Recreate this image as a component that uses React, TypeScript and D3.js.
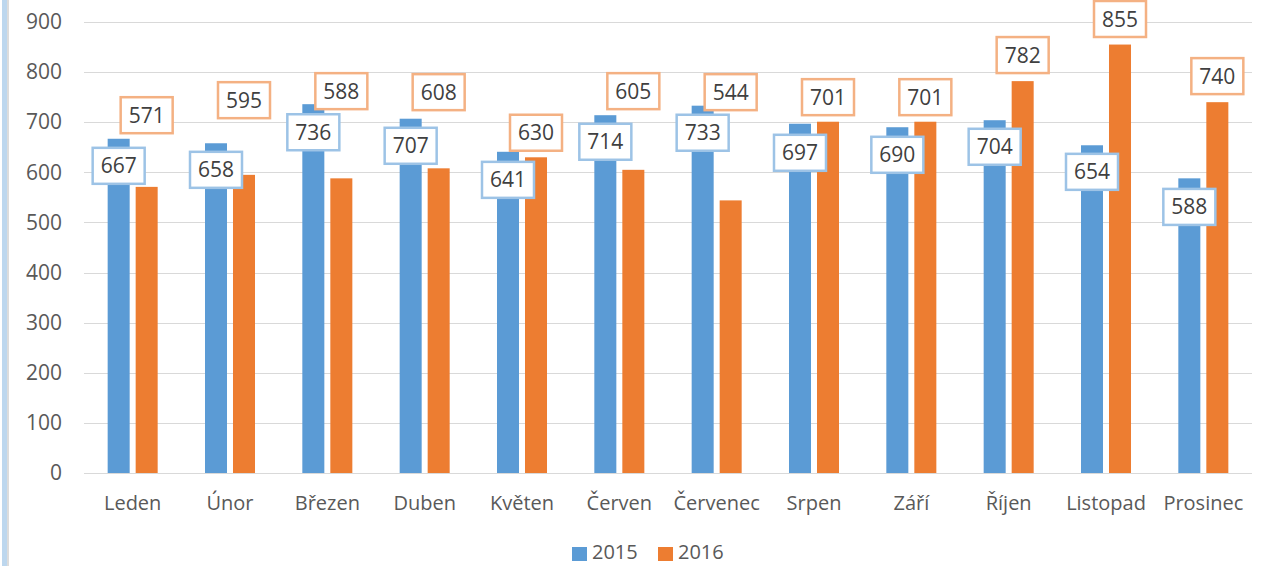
import React, { useEffect, useRef } from "react";
import * as d3 from "d3";

const months = ["Leden", "Únor", "Březen", "Duben", "Květen", "Červen", "Červenec", "Srpen", "Září", "Říjen", "Listopad", "Prosinec"];
const series = ["2015", "2016"];
const values2015 = [667, 658, 736, 707, 641, 714, 733, 697, 690, 704, 654, 588];
const values2016 = [571, 595, 588, 608, 630, 605, 544, 701, 701, 782, 855, 740];
const yTicks = [0, 100, 200, 300, 400, 500, 600, 700, 800, 900];

// where the data labels were dragged to in the original (in value units)
const labelAt2015 = [613, 605, 680, 653, 585, 661, 679, 639, 635, 651, 601, 531];
const labelAt2016 = [714, 744, 762, 760, 679, 762, 760, 750, 750, 834, 906, 792];

const colors = { "2015": "#5b9bd5", "2016": "#ed7d31" };
const borders = { "2015": "#9dc3e6", "2016": "#f4b183" };
const FONT = "'Open Sans', sans-serif";

const App = () => {
  const svgRef = useRef(null);

  useEffect(() => {
    const height = 566;
    const svg = d3.select(svgRef.current);
    svg.selectAll("*").remove();

    // left frame strip
    svg.append("rect").attr("x", 2).attr("y", 0).attr("width", 5).attr("height", height).attr("fill", "#bdd7ee");
    svg.append("rect").attr("x", 7).attr("y", 0).attr("width", 2).attr("height", height).attr("fill", "#dcdcdc");

    const x = d3.scaleBand().domain(months).range([84, 1252]).paddingInner(0).paddingOuter(0);
    const xs = d3.scaleBand().domain(series).range([0, x.bandwidth()]).paddingInner(0.214).paddingOuter(0.845);
    const y = d3.scaleLinear().domain([0, 900]).range([473, 22]);

    // gridlines
    svg.append("g").selectAll("line").data(yTicks).enter().append("line")
      .attr("x1", 84).attr("x2", 1252)
      .attr("y1", (d) => Math.round(y(d)) + 0.5).attr("y2", (d) => Math.round(y(d)) + 0.5)
      .attr("stroke", "#d9d9d9").attr("stroke-width", 1);

    // y axis labels
    const yAxis = svg.append("g").attr("transform", "translate(62,0)")
      .call(d3.axisLeft(y).tickValues(yTicks).tickSize(0).tickPadding(0));
    yAxis.select(".domain").remove();
    yAxis.selectAll("text").attr("font-family", FONT).attr("font-size", 21).attr("fill", "#595959");

    // x axis labels
    const xAxis = svg.append("g").attr("transform", "translate(0,473)")
      .call(d3.axisBottom(x).tickSize(0).tickPadding(23));
    xAxis.select(".domain").remove();
    xAxis.selectAll("text").attr("font-family", FONT).attr("font-size", 20).attr("fill", "#595959");

    const rows = months.map((m, i) => ({
      month: m,
      items: [
        { key: "2015", value: values2015[i], at: labelAt2015[i] },
        { key: "2016", value: values2016[i], at: labelAt2016[i] },
      ],
    }));

    const groups = svg.append("g").selectAll("g").data(rows).enter().append("g")
      .attr("transform", (d) => `translate(${x(d.month)},0)`);

    groups.selectAll("rect").data((d) => d.items).enter().append("rect")
      .attr("x", (d) => xs(d.key))
      .attr("y", (d) => y(d.value))
      .attr("width", xs.bandwidth())
      .attr("height", (d) => y(0) - y(d.value))
      .attr("fill", (d) => colors[d.key]);

    // data labels
    const bw = 52, bh = 36;
    const labels = svg.append("g").selectAll("g").data(rows.flatMap((r) => r.items.map((it) => ({ ...it, month: r.month }))))
      .enter().append("g")
      .attr("transform", (d) => `translate(${x(d.month) + xs(d.key) + xs.bandwidth() / 2},${y(d.at)})`);
    labels.append("rect")
      .attr("x", -bw / 2).attr("y", -bh / 2).attr("width", bw).attr("height", bh)
      .attr("fill", "#fff").attr("stroke", (d) => borders[d.key]).attr("stroke-width", 2.5);
    labels.append("text")
      .attr("text-anchor", "middle").attr("dy", "0.36em")
      .attr("font-family", FONT).attr("font-size", 21).attr("fill", "#404040")
      .text((d) => d.value);

    // legend
    const legend = svg.append("g").attr("transform", "translate(572,559)");
    const lx = [0, 86];
    series.forEach((s, i) => {
      legend.append("rect").attr("x", lx[i]).attr("y", -12).attr("width", 15).attr("height", 14).attr("fill", colors[s]);
      legend.append("text").attr("x", lx[i] + 20).attr("y", 0)
        .attr("font-family", FONT).attr("font-size", 20).attr("fill", "#595959").text(s);
    });
  }, []);

  return (
    <div>
      <svg ref={svgRef} width={1270} height={566} style={{ position: "absolute", left: 0, top: 0, background: "#fff" }}></svg>
    </div>
  );
};

export default App;
